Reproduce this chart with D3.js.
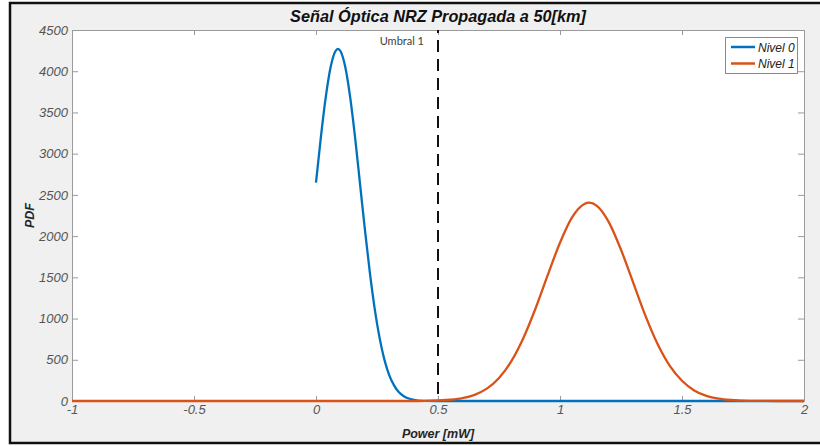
<!DOCTYPE html>
<html><head><meta charset="utf-8">
<script src="https://cdn.jsdelivr.net/npm/d3@7"></script>
<style>
html,body{margin:0;padding:0;background:#fff;}
svg{display:block;}
</style></head>
<body>
<svg id="chart" width="820" height="446"></svg>
<script>
// ---- data ----
const titleText = "Señal Óptica NRZ Propagada a 50[km]";
const xLabel = "Power [mW]";
const yLabel = "PDF";
const seriesNames = ["Nivel 0", "Nivel 1"];
const xTicks = [-1, -0.5, 0, 0.5, 1, 1.5, 2];
const yTicks = [0, 500, 1000, 1500, 2000, 2500, 3000, 3500, 4000, 4500];
const thresholdX = 0.5;
const thresholdLabel = "Umbral 1";

const nivel0X = [0, 0.02, 0.04, 0.06, 0.08, 0.09, 0.10, 0.12, 0.14, 0.16, 0.18, 0.20, 0.22, 0.24, 0.26, 0.28, 0.30, 0.32, 0.34, 0.36, 0.38, 0.40, 0.44, 0.50, 1.0, 1.5, 2.0];
const nivel0Y = [2650, 3200, 3685, 4050, 4245, 4270, 4245, 4050, 3685, 3200, 2645, 2090, 1575, 1130, 775, 505, 315, 190, 105, 58, 30, 15, 2, 0, 0, 0, 0];

const nivel1X = [-1, -0.5, 0, 0.4, 0.45, 0.5, 0.55, 0.6, 0.65, 0.7, 0.75, 0.8, 0.85, 0.9, 0.95, 1.0, 1.05, 1.1, 1.12, 1.15, 1.2, 1.25, 1.3, 1.35, 1.4, 1.45, 1.5, 1.55, 1.6, 1.65, 1.7, 1.75, 1.8, 1.9, 2.0];
const nivel1Y = [0, 0, 0, 0, 1, 6, 15, 34, 75, 150, 280, 480, 765, 1125, 1530, 1920, 2230, 2390, 2405, 2370, 2170, 1835, 1435, 1035, 690, 425, 245, 128, 62, 28, 12, 5, 1.5, 0, 0];

// ---- layout ----
const svg = d3.select("#chart");
const plot = {l: 72, r: 804, t: 30, b: 401};
const blue = "#0072BD", orange = "#D95319";

// figure background + frame
svg.append("rect").attr("x", 10).attr("y", 3).attr("width", 820).attr("height", 440)
  .attr("fill", "#f0f0f0").attr("stroke", "#111").attr("stroke-width", 2.5);

const x = d3.scaleLinear().domain([-1, 2]).range([plot.l, plot.r]);
const y = d3.scaleLinear().domain([0, 4500]).range([plot.b, plot.t]);

svg.append("rect").attr("x", plot.l).attr("y", plot.t)
  .attr("width", plot.r - plot.l).attr("height", plot.b - plot.t).attr("fill", "#fff");

const fmt = d => String(d);
const axisColor = "#9a9a9a";
const labelFont = "'Liberation Sans', Arial, sans-serif";

function styleAxis(g, showText) {
  g.select(".domain").attr("stroke", axisColor).attr("stroke-width", 1);
  g.selectAll(".tick line").attr("stroke", axisColor);
  g.selectAll(".tick text").attr("fill", "#555").attr("font-style", "italic")
    .attr("font-size", 13).attr("font-family", labelFont);
  if (!showText) g.selectAll(".tick text").remove();
}

const gx = svg.append("g").attr("transform", `translate(0,${plot.b})`)
  .call(d3.axisBottom(x).tickValues(xTicks).tickFormat(fmt).tickSize(-5).tickSizeOuter(0).tickPadding(4));
styleAxis(gx, true);
const gxt = svg.append("g").attr("transform", `translate(0,${plot.t})`)
  .call(d3.axisTop(x).tickValues(xTicks).tickSize(-5).tickSizeOuter(0));
styleAxis(gxt, false);
const gy = svg.append("g").attr("transform", `translate(${plot.l},0)`)
  .call(d3.axisLeft(y).tickValues(yTicks).tickFormat(fmt).tickSize(-6).tickSizeOuter(0).tickPadding(4));
styleAxis(gy, true);
const gyr = svg.append("g").attr("transform", `translate(${plot.r},0)`)
  .call(d3.axisRight(y).tickValues(yTicks).tickSize(-6).tickSizeOuter(0));
styleAxis(gyr, false);

// lines
svg.append("clipPath").attr("id", "clip").append("rect")
  .attr("x", plot.l).attr("y", plot.t - 2).attr("width", plot.r - plot.l + 2).attr("height", plot.b - plot.t + 4);

const line = d3.line().x(d => x(d[0])).y(d => y(d[1])).curve(d3.curveMonotoneX);
const d0 = nivel0X.map((v, i) => [v, nivel0Y[i]]);
const d1 = nivel1X.map((v, i) => [v, nivel1Y[i]]);

const lg = svg.append("g").attr("clip-path", "url(#clip)");
lg.append("path").datum(d0).attr("d", line).attr("fill", "none")
  .attr("stroke", blue).attr("stroke-width", 2.3);
lg.append("path").datum(d1).attr("d", line).attr("fill", "none")
  .attr("stroke", orange).attr("stroke-width", 2.3);

// threshold
svg.append("line").attr("x1", x(thresholdX)).attr("x2", x(thresholdX))
  .attr("y1", y(4500)).attr("y2", y(0))
  .attr("stroke", "#111").attr("stroke-width", 2).attr("stroke-dasharray", "12,7")
  .attr("stroke-dashoffset", -10);
svg.append("text").attr("x", x(thresholdX) - 14).attr("y", 45)
  .attr("text-anchor", "end").attr("font-family", "Lato, 'Open Sans', sans-serif")
  .attr("font-size", 11).attr("fill", "#404040").text(thresholdLabel);

// title & labels
svg.append("text").attr("x", (plot.l + plot.r) / 2).attr("y", 22)
  .attr("text-anchor", "middle").attr("font-family", labelFont)
  .attr("font-weight", "bold").attr("font-style", "italic").attr("font-size", 16.3)
  .attr("fill", "#111").text(titleText);
svg.append("text").attr("x", (plot.l + plot.r) / 2).attr("y", 438)
  .attr("text-anchor", "middle").attr("font-family", labelFont)
  .attr("font-weight", "bold").attr("font-style", "italic").attr("font-size", 12.5)
  .attr("fill", "#262626").text(xLabel);
svg.append("text").attr("transform", `translate(34,${(plot.t + plot.b) / 2}) rotate(-90)`)
  .attr("text-anchor", "middle").attr("font-family", labelFont)
  .attr("font-weight", "bold").attr("font-style", "italic").attr("font-size", 12.5)
  .attr("fill", "#262626").text(yLabel);

// legend
const leg = svg.append("g");
leg.append("rect").attr("x", 725.5).attr("y", 37.5).attr("width", 72).attr("height", 36)
  .attr("fill", "#fff").attr("stroke", "#8a8a8a").attr("stroke-width", 1);
[blue, orange].forEach((c, i) => {
  const yy = 47 + i * 16.5;
  leg.append("line").attr("x1", 731).attr("x2", 755).attr("y1", yy).attr("y2", yy)
    .attr("stroke", c).attr("stroke-width", 2.5);
  leg.append("text").attr("x", 758).attr("y", yy + 4.5).attr("font-family", labelFont)
    .attr("font-style", "italic").attr("font-size", 12).attr("fill", "#222").text(seriesNames[i]);
});
</script>
</body></html>
